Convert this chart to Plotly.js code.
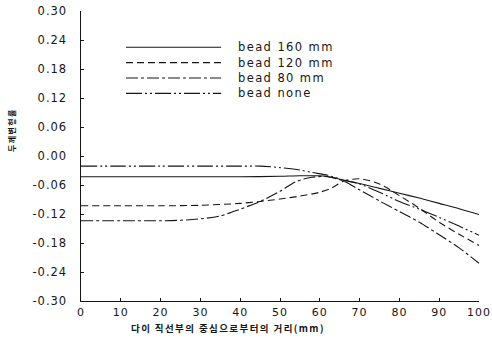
<!DOCTYPE html>
<html>
<head>
<meta charset="utf-8">
<script src="https://cdn.plot.ly/plotly-3.0.1.min.js"></script>
<style>
  html, body { margin: 0; padding: 0; background: #fff; }
  #chart { width: 492px; height: 341px; }
  .xtick text, .ytick text { letter-spacing: 1px; }
  .annotation-text { letter-spacing: 1.4px; }
</style>
</head>
<body>
<div id="chart"></div>
<script>
// Distance from the centre of the die's straight section (mm) and thickness strain
const xBead160 = [0, 10, 20, 30, 40, 50, 55, 60, 63, 66, 70, 75, 80, 85, 90, 95, 100];
const yBead160 = [-0.043, -0.043, -0.043, -0.043, -0.043, -0.042, -0.041, -0.041, -0.044, -0.050, -0.057, -0.067, -0.077, -0.087, -0.098, -0.109, -0.121];

const xBead120 = [0, 10, 20, 30, 40, 45, 50, 55, 60, 63, 66, 70, 75, 80, 85, 90, 95, 100];
const yBead120 = [-0.103, -0.103, -0.103, -0.102, -0.098, -0.094, -0.089, -0.083, -0.075, -0.066, -0.052, -0.047, -0.058, -0.082, -0.108, -0.137, -0.162, -0.185];

const xBead80 = [0, 10, 20, 25, 30, 35, 40, 45, 50, 54, 58, 62, 66, 70, 75, 80, 85, 90, 95, 100];
const yBead80 = [-0.134, -0.134, -0.134, -0.133, -0.130, -0.124, -0.110, -0.094, -0.073, -0.053, -0.044, -0.043, -0.052, -0.070, -0.093, -0.115, -0.137, -0.163, -0.190, -0.222];

const xBeadNone = [0, 10, 20, 30, 40, 45, 50, 55, 58, 62, 66, 70, 75, 80, 85, 90, 95, 100];
const yBeadNone = [-0.021, -0.021, -0.021, -0.021, -0.021, -0.021, -0.024, -0.029, -0.034, -0.040, -0.050, -0.058, -0.075, -0.094, -0.110, -0.127, -0.145, -0.164];

const seriesNames = ['bead 160 mm', 'bead 120 mm', 'bead 80 mm', 'bead none'];
const xTicks = [0, 10, 20, 30, 40, 50, 60, 70, 80, 90, 100];
const yTicks = [0.30, 0.24, 0.18, 0.12, 0.06, 0.00, -0.06, -0.12, -0.18, -0.24, -0.30];

const ink = '#161616';
const dashes = ['solid', '7px,4px', '12px,3px,3px,3px', '16px,3px,2px,3px,2px,3px'];
const xs = [xBead160, xBead120, xBead80, xBeadNone];
const ys = [yBead160, yBead120, yBead80, yBeadNone];

const traces = seriesNames.map((name, i) => ({
  type: 'scatter',
  mode: 'lines',
  name: name,
  x: xs[i],
  y: ys[i],
  line: { color: ink, width: 1.1, dash: dashes[i], shape: 'spline', smoothing: 0.8 },
  hoverinfo: 'skip'
}));

// Hand-drawn style key: line samples as shapes, labels as annotations
const keyTop = 0.875, keyStep = 0.053;
const shapes = [];
const annotations = [];
seriesNames.forEach((name, i) => {
  const yp = keyTop - i * keyStep;
  shapes.push({
    type: 'line', xref: 'paper', yref: 'paper',
    x0: 0.113, x1: 0.352, y0: yp, y1: yp,
    line: { color: ink, width: 1.1, dash: dashes[i] }
  });
  annotations.push({
    xref: 'paper', yref: 'paper', x: 0.39, y: yp,
    xanchor: 'left', yanchor: 'middle', showarrow: false,
    text: name,
    font: { family: 'DejaVu Sans', size: 11.5, color: ink }
  });
});

// Axis titles
annotations.push({
  xref: 'paper', yref: 'paper', x: -0.173, y: 0.59,
  xanchor: 'center', yanchor: 'middle', showarrow: false, textangle: -90,
  text: '두께변형률',
  font: { family: 'Noto Sans CJK KR', size: 8, color: ink, weight: 700 }
});
annotations.push({
  xref: 'paper', yref: 'paper', x: 0.37, y: -0.093,
  xanchor: 'center', yanchor: 'middle', showarrow: false,
  text: '다이 직선부의 중심으로부터의 거리(mm)',
  font: { family: 'Noto Sans CJK KR', size: 9.5, color: ink, weight: 700 }
});

const layout = {
  width: 492,
  height: 341,
  margin: { l: 81, r: 13, t: 11, b: 40 },
  paper_bgcolor: '#fff',
  plot_bgcolor: '#fff',
  showlegend: false,
  xaxis: {
    range: [0, 100],
    tickvals: xTicks,
    ticktext: xTicks.map(String),
    showgrid: false, zeroline: false,
    showline: true, linecolor: ink, linewidth: 1.3,
    ticks: 'inside', ticklen: 3, tickcolor: ink,
    tickfont: { family: 'DejaVu Sans', size: 11, color: ink }
  },
  yaxis: {
    range: [-0.30, 0.30],
    tickvals: yTicks,
    ticktext: yTicks.map(v => (v < 0 ? '-' : '') + Math.abs(v).toFixed(2)),
    showgrid: false, zeroline: false,
    showline: true, linecolor: ink, linewidth: 1.5,
    ticks: 'inside', ticklen: 3, tickcolor: ink,
    ticklabelstandoff: 10,
    tickfont: { family: 'DejaVu Sans', size: 11.5, color: ink }
  },
  shapes: shapes,
  annotations: annotations
};

Plotly.newPlot('chart', traces, layout, { staticPlot: true, displayModeBar: false });
</script>
</body>
</html>
